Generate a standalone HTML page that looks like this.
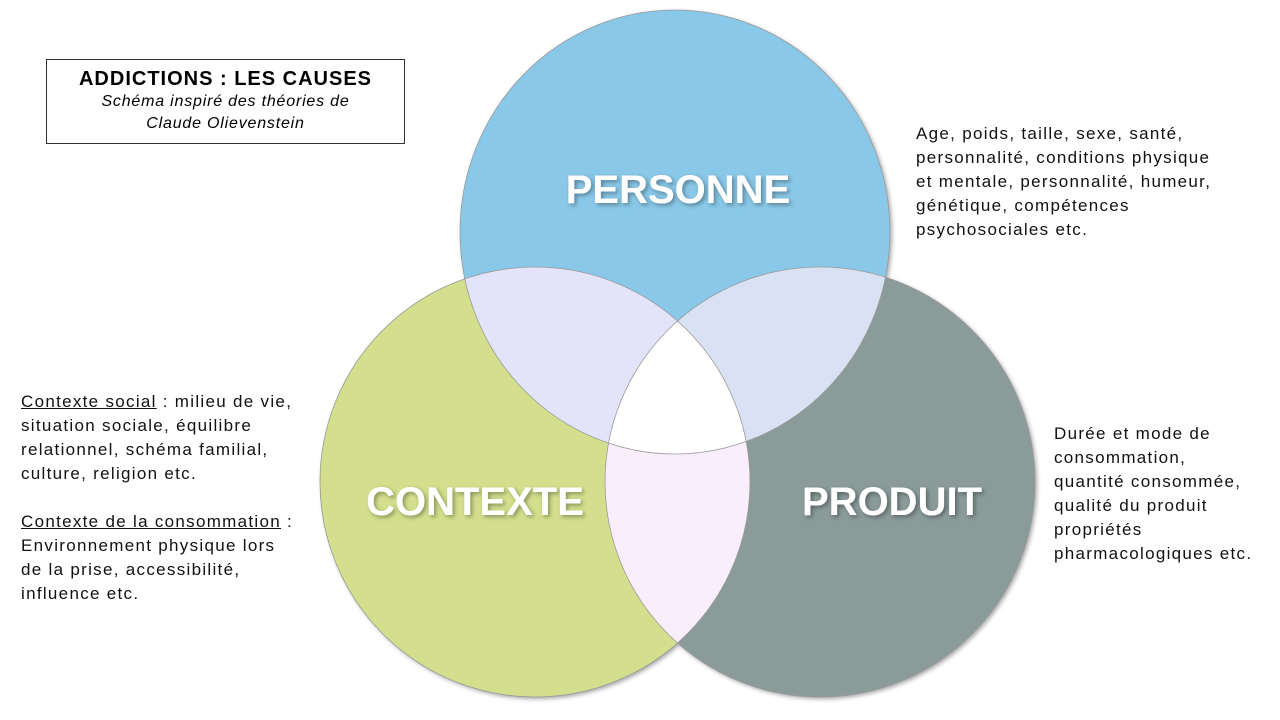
<!DOCTYPE html>
<html><head><meta charset="utf-8"><style>
body{margin:0;width:1280px;height:720px;background:#fff;position:relative;font-family:"Liberation Sans",sans-serif;overflow:hidden}
.t{position:absolute;font-size:17px;line-height:24px;color:#111;letter-spacing:1.3px;white-space:nowrap}
.box{position:absolute;left:46px;top:59px;width:359px;height:85px;border:1px solid #333;box-sizing:border-box;text-align:center}
</style></head><body>
<svg width="1280" height="720" style="position:absolute;left:0;top:0">
<defs>
<clipPath id="cA"><ellipse cx="675" cy="232" rx="215" ry="222"/></clipPath>
<clipPath id="cB"><circle cx="535" cy="482" r="215"/></clipPath>
<filter id="sh"><feDropShadow dx="2" dy="2" stdDeviation="2" flood-opacity="0.35"/></filter>
</defs>
<g filter="url(#sh)">
<ellipse cx="675" cy="232" rx="215" ry="222" fill="#89C8E8"/>
<circle cx="535" cy="482" r="215" fill="#D3DF8C"/>
<circle cx="820" cy="482" r="215" fill="#8A9B9A"/>
</g>
<g clip-path="url(#cA)"><circle cx="535" cy="482" r="215" fill="#E3E4FA"/><circle cx="820" cy="482" r="215" fill="#D9E2F2"/></g>
<g clip-path="url(#cB)"><circle cx="820" cy="482" r="215" fill="#F9EEFB"/></g>
<g clip-path="url(#cA)"><g clip-path="url(#cB)"><circle cx="820" cy="482" r="215" fill="#fff"/></g></g>
<g fill="none" stroke="#999" stroke-width="0.8">
<ellipse cx="675" cy="232" rx="215" ry="222"/><circle cx="535" cy="482" r="215"/><circle cx="820" cy="482" r="215"/>
</g>
<g font-family="Liberation Sans,sans-serif" font-weight="bold" font-size="40" fill="#fff" text-anchor="middle" filter="url(#sh)">
<text x="678" y="203">PERSONNE</text>
<text x="475" y="515">CONTEXTE</text>
<text x="892" y="515">PRODUIT</text>
</g>
</svg>
<div class="box"><div style="font-weight:bold;font-size:20px;margin-top:7px;line-height:24px;letter-spacing:1px">ADDICTIONS : LES CAUSES</div><div style="font-style:italic;font-size:16px;line-height:22px;letter-spacing:0.8px">Schéma inspiré des théories de<br>Claude Olievenstein</div></div>
<div class="t" style="left:916px;top:122px">Age, poids, taille, sexe, santé,<br>personnalité, conditions physique<br>et mentale, personnalité, humeur,<br>génétique, compétences<br>psychosociales etc.</div>
<div class="t" style="left:21px;top:390px"><u>Contexte social</u> : milieu de vie,<br>situation sociale, équilibre<br>relationnel, schéma familial,<br>culture, religion etc.<br><br><u>Contexte de la consommation</u> :<br>Environnement physique lors<br>de la prise, accessibilité,<br>influence etc.</div>
<div class="t" style="left:1054px;top:422px">Durée et mode de<br>consommation,<br>quantité consommée,<br>qualité du produit<br>propriétés<br>pharmacologiques etc.</div>
</body></html>
